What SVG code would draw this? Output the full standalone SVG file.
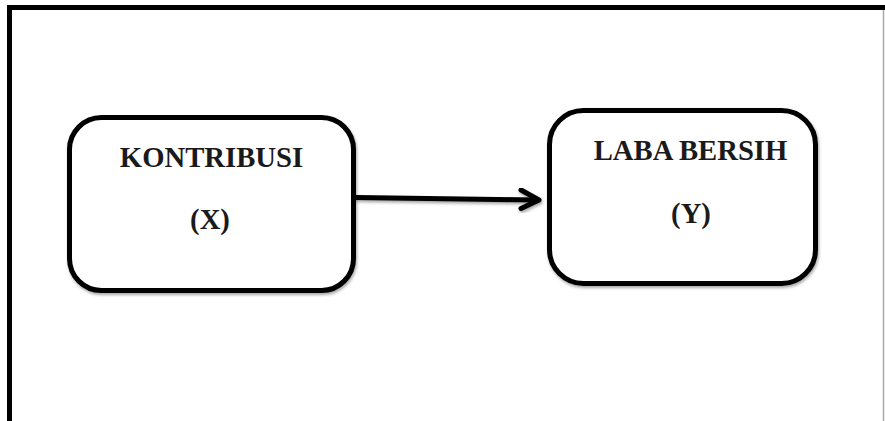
<svg xmlns="http://www.w3.org/2000/svg" width="885" height="421" viewBox="0 0 885 421">
  <defs>
    <filter id="shadow" x="-10%" y="-10%" width="120%" height="130%">
      <feDropShadow dx="1" dy="2" stdDeviation="1.5" flood-color="#000" flood-opacity="0.35"/>
    </filter>
    <style>
      .box { fill: #fff; stroke: #000; stroke-width: 5; }
      .label { font-family: "Liberation Serif", "Times New Roman", serif; font-weight: bold; fill: #1a1a1a; text-anchor: middle; }
      .conn { fill: none; stroke: #000; stroke-width: 5; stroke-linecap: round; stroke-linejoin: round; }
    </style>
  </defs>
  <rect width="885" height="421" fill="#fff"/>
  <g id="frame">
    <line x1="883.5" y1="5" x2="883.5" y2="421" stroke="#aaa" stroke-width="1.5"/>
    <path d="M9.5 421 V7.5 H885" fill="none" stroke="#000" stroke-width="5"/>
  </g>
  <g id="connectors" filter="url(#shadow)">
    <path class="conn" d="M356 197.5 L538 200"/>
    <path class="conn" d="M521 190 L539 200 L521 208.5"/>
  </g>
  <g id="node-x">
    <rect class="box" x="69.5" y="117.5" width="284" height="173" rx="32" filter="url(#shadow)"/>
    <text class="label" x="211.5" y="167" font-size="28.7">KONTRIBUSI</text>
    <text class="label" x="210" y="229" font-size="28.7">(X)</text>
  </g>
  <g id="node-y">
    <rect class="box" x="549.5" y="110.5" width="266" height="173" rx="34" filter="url(#shadow)"/>
    <text class="label" x="690.5" y="160" font-size="28.7">LABA BERSIH</text>
    <text class="label" x="691" y="223" font-size="28.7">(Y)</text>
  </g>
</svg>
